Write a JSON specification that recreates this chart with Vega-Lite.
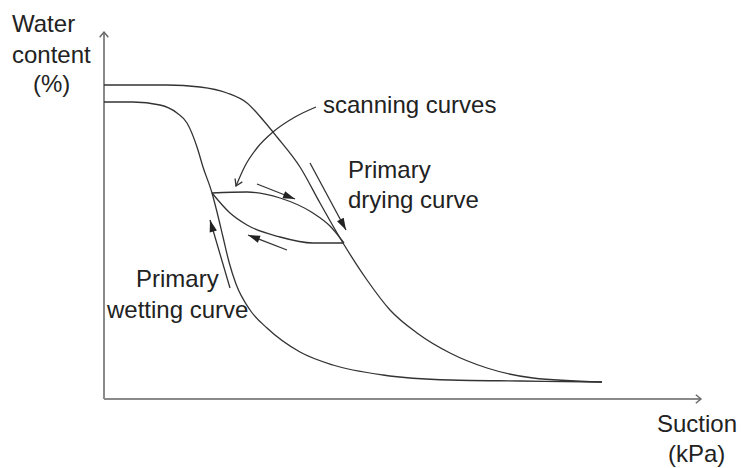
{
  "$schema": "https://vega.github.io/schema/vega-lite/v6.json",
  "width": 741,
  "height": 468,
  "autosize": {"type": "fit", "contains": "padding"},
  "padding": 0,
  "background": "white",
  "config": {"view": {"stroke": null}},
  "datasets": {
    "curves": [
      {"id": "drying", "x": 0, "y": 314}, {"id": "drying", "x": 63, "y": 314}, {"id": "drying", "x": 96, "y": 312}, {"id": "drying", "x": 123, "y": 306}, {"id": "drying", "x": 143, "y": 296}, {"id": "drying", "x": 159, "y": 279}, {"id": "drying", "x": 173, "y": 262}, {"id": "drying", "x": 196, "y": 232}, {"id": "drying", "x": 216, "y": 196}, {"id": "drying", "x": 239, "y": 156}, {"id": "drying", "x": 263, "y": 119}, {"id": "drying", "x": 286, "y": 89}, {"id": "drying", "x": 313, "y": 66}, {"id": "drying", "x": 346, "y": 46}, {"id": "drying", "x": 383, "y": 31}, {"id": "drying", "x": 429, "y": 21}, {"id": "drying", "x": 498, "y": 17},
      {"id": "wetting", "x": 0, "y": 297}, {"id": "wetting", "x": 29, "y": 297}, {"id": "wetting", "x": 56, "y": 294}, {"id": "wetting", "x": 73, "y": 286}, {"id": "wetting", "x": 83, "y": 276}, {"id": "wetting", "x": 93, "y": 252}, {"id": "wetting", "x": 99, "y": 232}, {"id": "wetting", "x": 108, "y": 206}, {"id": "wetting", "x": 113, "y": 187}, {"id": "wetting", "x": 119, "y": 162}, {"id": "wetting", "x": 125, "y": 137}, {"id": "wetting", "x": 132, "y": 115}, {"id": "wetting", "x": 146, "y": 89}, {"id": "wetting", "x": 163, "y": 71}, {"id": "wetting", "x": 196, "y": 47}, {"id": "wetting", "x": 229, "y": 34}, {"id": "wetting", "x": 279, "y": 24}, {"id": "wetting", "x": 346, "y": 19}, {"id": "wetting", "x": 416, "y": 18}, {"id": "wetting", "x": 498, "y": 17},
      {"id": "scanUp", "x": 108, "y": 206}, {"id": "scanUp", "x": 143, "y": 207}, {"id": "scanUp", "x": 176, "y": 201}, {"id": "scanUp", "x": 209, "y": 186}, {"id": "scanUp", "x": 226, "y": 173}, {"id": "scanUp", "x": 240, "y": 156},
      {"id": "scanLow", "x": 108, "y": 206}, {"id": "scanLow", "x": 126, "y": 186}, {"id": "scanLow", "x": 143, "y": 174}, {"id": "scanLow", "x": 176, "y": 162}, {"id": "scanLow", "x": 209, "y": 156}, {"id": "scanLow", "x": 240, "y": 156},
      {"id": "aDry", "x": 206, "y": 236}, {"id": "aDry", "x": 242, "y": 169},
      {"id": "aUp", "x": 153, "y": 215}, {"id": "aUp", "x": 191, "y": 200},
      {"id": "aLow", "x": 183, "y": 149}, {"id": "aLow", "x": 144, "y": 164},
      {"id": "aWet", "x": 126, "y": 111}, {"id": "aWet", "x": 106, "y": 179},
      {"id": "callout", "x": 212, "y": 292}, {"id": "callout", "x": 191, "y": 282}, {"id": "callout", "x": 169, "y": 267}, {"id": "callout", "x": 153, "y": 251}, {"id": "callout", "x": 141, "y": 233}, {"id": "callout", "x": 132, "y": 213}
    ],
    "axes": [
      {"id": "yaxis", "x": 0, "y": 0}, {"id": "yaxis", "x": 0, "y": 366},
      {"id": "xaxis", "x": 0, "y": 0}, {"id": "xaxis", "x": 596, "y": 0}
    ],
    "heads": [
      {"x": 242, "y": 169, "dir": 152},
      {"x": 191, "y": 200, "dir": 111},
      {"x": 144, "y": 164, "dir": 291},
      {"x": 106, "y": 179, "dir": 344}
    ],
    "openHeads": [
      {"x": 132, "y": 213, "dir": 205}
    ],
    "axisHeads": [
      {"x": 0, "y": 367, "dir": 0},
      {"x": 597, "y": 0, "dir": 90}
    ],
    "labels": [
      {"x": -92, "y": 367, "text": "Water"},
      {"x": -92, "y": 336, "text": "content"},
      {"x": -71, "y": 307, "text": "(%)"},
      {"x": 553, "y": -33, "text": "Suction"},
      {"x": 564, "y": -63, "text": "(kPa)"},
      {"x": 244, "y": 221, "text": "Primary"},
      {"x": 244, "y": 191, "text": "drying curve"},
      {"x": 32, "y": 112, "text": "Primary"},
      {"x": 3, "y": 81, "text": "wetting curve"},
      {"x": 219, "y": 286, "text": "scanning curves"}
    ]
  },
  "encoding": {
    "x": {"field": "x", "type": "quantitative", "scale": {"domain": [-104, 637], "nice": false, "zero": false}, "axis": null},
    "y": {"field": "y", "type": "quantitative", "scale": {"domain": [-69, 399], "nice": false, "zero": false}, "axis": null}
  },
  "layer": [
    {
      "data": {"name": "axes"},
      "mark": {"type": "line", "color": "#8a8a8a", "strokeWidth": 2},
      "encoding": {"detail": {"field": "id"}}
    },
    {
      "data": {"name": "axisHeads"},
      "mark": {"type": "point", "shape": "M-0.5,0.6L0,0L0.5,0.6", "filled": false, "stroke": "#666666", "strokeWidth": 1.4, "size": 300, "opacity": 1},
      "encoding": {"angle": {"field": "dir", "type": "quantitative", "scale": null}}
    },
    {
      "data": {"name": "curves"},
      "mark": {"type": "line", "color": "#333333", "strokeWidth": 1.3, "interpolate": "monotone"},
      "encoding": {"detail": {"field": "id"}}
    },
    {
      "data": {"name": "heads"},
      "mark": {"type": "point", "shape": "M0,0L0.5,1.6L-0.5,1.6Z", "filled": true, "color": "#222222", "size": 225, "opacity": 1},
      "encoding": {"angle": {"field": "dir", "type": "quantitative", "scale": null}}
    },
    {
      "data": {"name": "openHeads"},
      "mark": {"type": "point", "shape": "M-0.5,0.8L0,0L0.5,0.8", "filled": false, "stroke": "#333333", "strokeWidth": 1.3, "size": 256, "opacity": 1},
      "encoding": {"angle": {"field": "dir", "type": "quantitative", "scale": null}}
    },
    {
      "data": {"name": "labels"},
      "mark": {"type": "text", "font": "Liberation Sans", "fontSize": 24, "color": "#222222", "align": "left", "baseline": "alphabetic"},
      "encoding": {"text": {"field": "text"}}
    }
  ]
}
